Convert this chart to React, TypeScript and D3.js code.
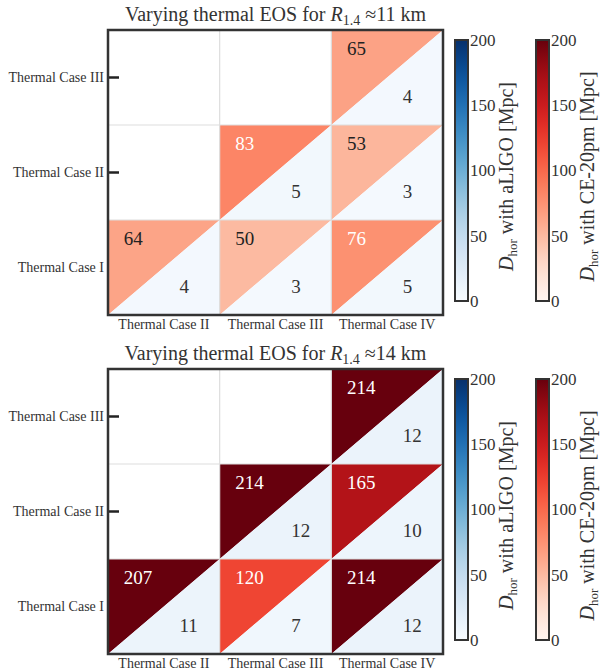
import React from "react";
import * as d3 from "d3";

const xCategories = ["Thermal Case II", "Thermal Case III", "Thermal Case IV"];
const yCategories = ["Thermal Case I", "Thermal Case II", "Thermal Case III"];
const cbTicks = [0, 50, 100, 150, 200];

// rows: Case I, II, III ; columns: Case II, III, IV
const ce11: (number | null)[][] = [
  [64, 50, 76],
  [null, 83, 53],
  [null, null, 65],
];
const ligo11: (number | null)[][] = [
  [4, 3, 5],
  [null, 5, 3],
  [null, null, 4],
];
const ce14: (number | null)[][] = [
  [207, 120, 214],
  [null, 214, 165],
  [null, null, 214],
];
const ligo14: (number | null)[][] = [
  [11, 7, 12],
  [null, 12, 10],
  [null, null, 12],
];

const FONT = "'Liberation Serif', 'DejaVu Serif', serif";
const TXT = "#333";

const reds = d3.scaleSequential(d3.interpolateReds).domain([0, 200]).clamp(true);
const blues = d3.scaleSequential(d3.interpolateBlues).domain([0, 200]).clamp(true);

function Colorbar({ x, y0, y1, interp, id, label }: any) {
  const cy = d3.scaleLinear().domain([0, 200]).range([y1, y0]);
  const stops = d3.range(0, 1.0001, 0.05);
  const w = 13;
  return (
    <g>
      <defs>
        <linearGradient id={id} x1="0" y1="1" x2="0" y2="0">
          {stops.map((s) => (
            <stop key={s} offset={s} stopColor={interp(s)} />
          ))}
        </linearGradient>
      </defs>
      <rect x={x} y={y0} width={w} height={y1 - y0} fill={`url(#${id})`} stroke="#333" strokeWidth={2} />
      {cbTicks.map((t) => (
        <text key={t} x={x + w + 2} y={cy(t)} dy="0.35em" fontSize={17} fill={TXT} fontFamily={FONT}>
          {t}
        </text>
      ))}
      <text
        transform={`translate(${x + w + 45},${(y0 + y1) / 2 + 6}) rotate(-90)`}
        textAnchor="middle"
        fontSize={20}
        fill={TXT}
        fontFamily={FONT}
      >
        <tspan fontStyle="italic">D</tspan>
        <tspan fontSize={13} dy={4}>hor</tspan>
        <tspan dy={-4}>{" with " + label + " [Mpc]"}</tspan>
      </text>
    </g>
  );
}

function Panel({ top, ce, ligo, radius, idp }: any) {
  const left = 108;
  const right = 443;
  const h = 285;
  const x = d3.scaleBand().domain(xCategories).range([left, right]);
  const y = d3.scaleBand().domain([...yCategories].reverse()).range([top, top + h]);
  const bw = x.bandwidth();
  const bh = y.bandwidth();
  const cells: any[] = [];
  yCategories.forEach((rc, ri) => {
    xCategories.forEach((cc, ci) => {
      const a = ce[ri][ci];
      const b = ligo[ri][ci];
      if (a == null || b == null) return;
      const x0 = x(cc)!;
      const y0 = y(rc)!;
      cells.push(
        <g key={rc + cc}>
          <path d={`M${x0},${y0}L${x0 + bw},${y0}L${x0},${y0 + bh}Z`} fill={reds(a)} />
          <path d={`M${x0 + bw},${y0}L${x0 + bw},${y0 + bh}L${x0},${y0 + bh}Z`} fill={blues(b)} />
          <text x={x0 + bw * 0.14} y={y0 + bh * 0.19} dy="0.35em" fontSize={19} fontFamily={FONT} fill={a > 70 ? "#fff" : "#222"}>
            {a}
          </text>
          <text x={x0 + bw * 0.64} y={y0 + bh * 0.7} dy="0.35em" fontSize={19} fontFamily={FONT} fill="#333">
            {b}
          </text>
        </g>
      );
    });
  });
  return (
    <g>
      <text x={(left + right) / 2} y={top - 9} textAnchor="middle" fontSize={20} fill={TXT} fontFamily={FONT}>
        {"Varying thermal EOS for "}
        <tspan fontStyle="italic">R</tspan>
        <tspan fontSize={14} dy={4}>1.4</tspan>
        <tspan dy={-4}>{" \u2248" + radius + " km"}</tspan>
      </text>
      {yCategories.map((c) => (
        <g key={c}>
          <line x1={left} x2={left + 11} y1={y(c)! + bh / 2} y2={y(c)! + bh / 2} stroke="#222" strokeWidth={2.5} />
          <text x={left - 4} y={y(c)! + bh / 2} dy="0.35em" textAnchor="end" fontSize={14} fill={TXT} fontFamily={FONT}>
            {c}
          </text>
        </g>
      ))}
      {cells}
      {[1, 2].map((i) => (
        <g key={i}>
          <line x1={left + i * bw} x2={left + i * bw} y1={top} y2={top + h} stroke="#ddd" strokeWidth={1.2} />
          <line x1={left} x2={right} y1={top + i * bh} y2={top + i * bh} stroke="#ddd" strokeWidth={1.2} />
        </g>
      ))}
      <rect x={left} y={top} width={right - left} height={h} fill="none" stroke="#333" strokeWidth={2.5} />
      {xCategories.map((c) => (
        <text key={c} x={x(c)! + bw / 2} y={top + h + 14} textAnchor="middle" fontSize={14} fill={TXT} fontFamily={FONT}>
          {c}
        </text>
      ))}
      <Colorbar x={455} y0={top + 10} y1={top + 271} interp={d3.interpolateBlues} id={"b" + idp} label="aLIGO" />
      <Colorbar x={536} y0={top + 10} y1={top + 271} interp={d3.interpolateReds} id={"r" + idp} label="CE-20pm" />
    </g>
  );
}

export default function App() {
  return (
    <svg width={603} height={671} style={{ position: "absolute", left: 0, top: 0, background: "#fff" }}>
      <Panel top={30} ce={ce11} ligo={ligo11} radius={11} idp="a" />
      <Panel top={369} ce={ce14} ligo={ligo14} radius={14} idp="b" />
    </svg>
  );
}
